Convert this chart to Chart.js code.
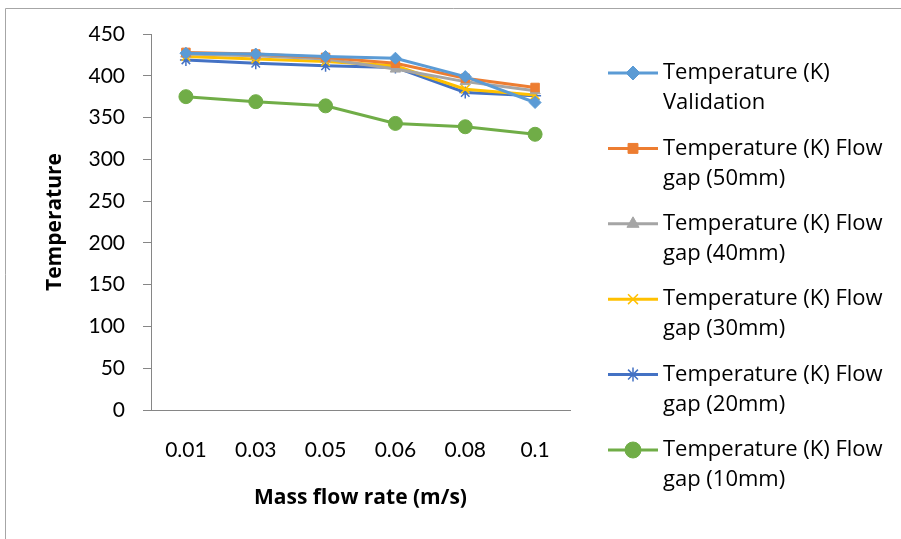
<!DOCTYPE html>
<html>
<head>
<meta charset="utf-8">
<script src="https://cdn.jsdelivr.net/npm/chart.js@4"></script>
<style>
  html, body { margin: 0; padding: 0; background: #fff; }
  canvas { display: block; }
</style>
</head>
<body>
<canvas id="grafico" width="901" height="539"></canvas>
<script>
// dados
const categorias = ['0.01', '0.03', '0.05', '0.06', '0.08', '0.1'];
const validacao = [427, 426, 423, 421, 399, 368];
const gap50 = [428, 426, 422, 415, 397, 386];
const gap40 = [426, 424, 420, 408, 393, 382];
const gap30 = [423, 420, 417, 412, 384, 377];
const gap20 = [419, 415, 412, 410, 380, 376];
const gap10 = [375, 369, 364, 343, 339, 330];
const ticksY = [0, 50, 100, 150, 200, 250, 300, 350, 400, 450];

const fonte = 'Lato, "Open Sans", sans-serif';
const fonteTexto = '"Open Sans", Lato, sans-serif';

const serie = (label, data, cor, estilo, raio) => ({
    label: label,
    data: data,
    borderColor: cor,
    backgroundColor: cor,
    borderWidth: 3,
    pointStyle: estilo,
    pointRadius: raio,
    pointBorderWidth: estilo === 'crossRot' || estilo === 'star' ? 1.5 : 1,
    tension: 0,
});

const datasets = [
    serie(['Temperature (K)', 'Validation'], validacao, '#5B9BD5', 'rectRot', 6),
    serie(['Temperature (K) Flow', 'gap (50mm)'], gap50, '#ED7D31', 'rect', 6),
    serie(['Temperature (K) Flow', 'gap (40mm)'], gap40, '#A5A5A5', 'triangle', 6),
    serie(['Temperature (K) Flow', 'gap (30mm)'], gap30, '#FFC000', 'crossRot', 6),
    serie(['Temperature (K) Flow', 'gap (20mm)'], gap20, '#4472C4', 'star', 6),
    serie(['Temperature (K) Flow', 'gap (10mm)'], gap10, '#70AD47', 'circle', 7),
];

// moldura, títulos dos eixos e legenda desenhados à mão (estilo Excel)
const extras = {
    id: 'extras',
    beforeDraw(chart) {
        const c = chart.ctx;
        c.save();
        c.strokeStyle = '#a6a6a6';
        c.lineWidth = 1;
        c.beginPath();
        c.moveTo(5.5, 560);
        c.lineTo(5.5, 8.5);
        c.lineTo(920, 8.5);
        c.stroke();
        c.restore();
    },
    afterDraw(chart) {
        const c = chart.ctx;
        const area = chart.chartArea;
        c.save();
        c.fillStyle = '#000';
        c.font = 'bold 21px ' + fonteTexto;
        c.textAlign = 'center';
        c.textBaseline = 'middle';
        c.fillText('Mass flow rate (m/s)', (area.left + area.right) / 2, 498);
        c.translate(55, (area.top + area.bottom) / 2);
        c.rotate(-Math.PI / 2);
        c.fillText('Temperature', 0, 0);
        c.restore();

        c.save();
        c.font = '22px ' + fonteTexto;
        c.textAlign = 'left';
        c.textBaseline = 'middle';
        chart.data.datasets.forEach((ds, i) => {
            const y = 73 + i * 75.4;
            c.strokeStyle = ds.borderColor;
            c.lineWidth = 3;
            c.beginPath();
            c.moveTo(608, y);
            c.lineTo(658, y);
            c.stroke();
            c.fillStyle = ds.borderColor;
            c.strokeStyle = ds.borderColor;
            c.lineWidth = ds.pointBorderWidth;
            Chart.helpers.drawPoint(c, {
                pointStyle: ds.pointStyle,
                radius: ds.pointRadius + 1,
                borderWidth: ds.pointBorderWidth,
                rotation: 0,
            }, 633, y);
            c.fillStyle = '#000';
            ds.label.forEach((linha, j) => c.fillText(linha, 663, y + j * 30));
        });
        c.restore();
    }
};

const ctx = document.getElementById('grafico').getContext('2d');
const grafico = new Chart(ctx, {
    type: 'line',
    data: { labels: categorias, datasets: datasets },
    plugins: [extras],
    options: {
        responsive: false,
        animation: false,
        layout: { padding: { left: 0, top: 34, right: 331, bottom: 0 } },
        plugins: {
            legend: { display: false },
            tooltip: { enabled: false },
        },
        scales: {
            x: {
                offset: true,
                grid: { display: false, drawTicks: false },
                border: { display: true, color: '#868686', width: 1 },
                ticks: { color: '#000', font: { family: fonte, size: 21 }, padding: 28, maxRotation: 0 },
                afterFit: (s) => { s.height = 129; },
            },
            y: {
                min: 0,
                max: 450,
                afterBuildTicks: (s) => { s.ticks = ticksY.map(v => ({ value: v })); },
                grid: { drawOnChartArea: false, drawTicks: true, tickLength: 8, color: '#868686' },
                border: { display: true, color: '#868686', width: 1 },
                ticks: { color: '#000', font: { family: fonte, size: 21 }, padding: 18 },
                afterFit: (s) => { s.width = 151; },
            }
        }
    }
});
</script>
</body>
</html>
